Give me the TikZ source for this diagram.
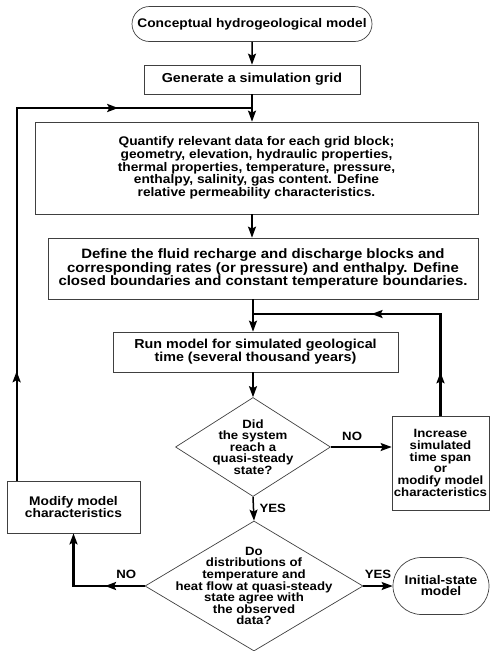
\documentclass[tikz,border=0pt]{standalone}
\usepackage{fontspec}
\setmainfont[FakeStretch=1.1]{Liberation Sans}
\usetikzlibrary{shapes,arrows.meta,positioning,decorations.markings}

\begin{document}
\begin{tikzpicture}[
    x=1pt, y=-1pt,
    >={Stealth[length=11pt,width=8pt,inset=2pt]},
    box/.style={rectangle, draw=black!75, line width=0.7pt, align=center, inner sep=0pt, font=\fontsize{12.5}{10.8}\selectfont\bfseries},
    terminal/.style={rounded rectangle, draw=black!75, line width=0.7pt, align=center, inner sep=0pt, font=\fontsize{12.5}{11}\selectfont\bfseries},
    decision/.style={diamond, draw=black!75, line width=0.7pt, inner sep=0pt},
    dtext/.style={align=center, font=\fontsize{12}{11.6}\selectfont\bfseries},
    answer/.style={font=\fontsize{12}{12}\selectfont\bfseries},
    arrow/.style={->, line width=1.5pt},
    loop/.style={line width=2.2pt}
]
\useasboundingbox (0,0) rectangle (491,651);

% Start
\node[terminal, minimum width=240pt, minimum height=35pt] (concept) at (252,24) {Conceptual hydrogeological model};

% Grid and data
\node[box, minimum width=216pt, minimum height=29pt, font=\fontsize{13}{12}\selectfont\bfseries] (grid) at (252,79.5) {Generate a simulation grid};
\node[box, minimum width=443pt, minimum height=92pt] (quantify) at (256.5,168) {Quantify relevant data for each grid block;\\geometry, elevation, hydraulic properties,\\thermal properties, temperature, pressure,\\enthalpy, salinity, gas content. Define\\relative permeability characteristics.};
\node[box, minimum width=430pt, minimum height=61pt, font=\fontsize{13.6}{12.5}\selectfont\bfseries] (recharge) at (263,268.5) {Define the fluid recharge and discharge blocks and\\corresponding rates (or pressure) and enthalpy. Define\\closed boundaries and constant temperature boundaries.};

% Simulation run
\node[box, minimum width=285pt, minimum height=40pt, font=\fontsize{13}{12}\selectfont\bfseries] (run) at (255.5,352) {Run model for simulated geological\\time (several thousand years)};
\node[decision, minimum width=155pt, minimum height=99pt, label={[dtext]center:{Did\\the system\\reach a\\quasi-steady\\state?}}] (steady) at (253,447) {};
\node[box, minimum width=97pt, minimum height=94pt, font=\fontsize{12}{11.8}\selectfont\bfseries] (increase) at (440.5,463) {Increase\\simulated\\time span\\or\\modify model\\characteristics};

% Calibration
\node[box, minimum width=133pt, minimum height=52pt] (modify) at (73.5,507) {Modify model\\characteristics};
\node[decision, minimum width=218pt, minimum height=130pt, label={[dtext]center:{Do\\distributions of\\temperature and\\heat flow at quasi-steady\\state agree with\\the observed\\data?}}] (agree) at (254,586) {};
\node[terminal, minimum width=96pt, minimum height=57pt] (initial) at (441,586) {Initial-state\\model};

% Joints of the feedback lines
\coordinate (join1) at (252,108);
\coordinate (join2) at (253,314);

% Arrows
\draw[arrow] (concept) -- (grid);
\draw[arrow] (grid) -- (grid |- quantify.north);
\draw[arrow] (grid |- quantify.south) -- (grid |- recharge.north);
\draw[arrow] (join2 |- recharge.south) -- (join2 |- run.north);
\draw[arrow] (steady |- run.south) -- (steady.north);
\draw[arrow] (steady.east) -- (steady.east -| increase.west) node[answer, pos=0.35, above=2pt] {NO};
\draw[arrow] (steady.south) -- (agree.north) node[answer, midway, right=2pt] {YES};
\draw[arrow] (agree.east) -- (agree.east -| initial.west) node[answer, midway, above=3pt] {YES};
\draw[loop, ->, decoration={markings, mark=at position 0.32 with {\arrow{>}}}, postaction={decorate}] (agree.west) -| (modify.south) node[answer, pos=0.13, above=3pt] {NO};

% Feedback loops
\draw[loop, decoration={markings, mark=at position 0.18 with {\arrow{>}}, mark=at position 0.78 with {\arrow{>}}}, postaction={decorate}] ([xshift=10pt]modify.north west) |- (join1);
\draw[loop, decoration={markings, mark=at position 0.15 with {\arrow{>}}, mark=at position 0.59 with {\arrow{>}}}, postaction={decorate}] (increase.north) |- (join2);

\end{tikzpicture}
\end{document}
